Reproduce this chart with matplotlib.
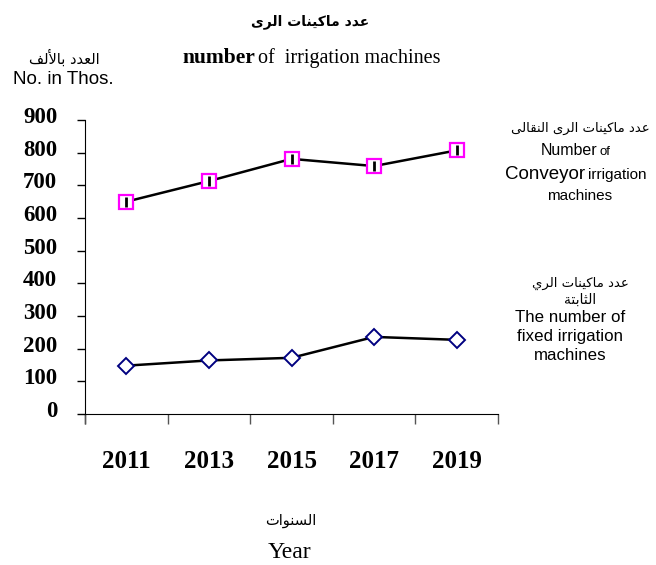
import matplotlib
matplotlib.use("Agg")
import matplotlib.pyplot as plt
import matplotlib.transforms as mtransforms

# data (thousands)
years = ["2011", "2013", "2015", "2017", "2019"]
conveyor = [650, 713, 781, 759, 807]
fixed = [148, 164, 172, 236, 227]
yticks = [0, 100, 200, 300, 400, 500, 600, 700, 800, 900]

# arabic forms: isolated, final, initial, medial (matplotlib does no shaping)
FORMS = {
    'ا': ('\uFE8D', '\uFE8E', None, None),
    'أ': ('\uFE83', '\uFE84', None, None),
    'ب': ('\uFE8F', '\uFE90', '\uFE91', '\uFE92'),
    'ة': ('\uFE93', '\uFE94', None, None),
    'ت': ('\uFE95', '\uFE96', '\uFE97', '\uFE98'),
    'ث': ('\uFE99', '\uFE9A', '\uFE9B', '\uFE9C'),
    'د': ('\uFEA9', '\uFEAA', None, None),
    'ر': ('\uFEAD', '\uFEAE', None, None),
    'س': ('\uFEB1', '\uFEB2', '\uFEB3', '\uFEB4'),
    'ع': ('\uFEC9', '\uFECA', '\uFECB', '\uFECC'),
    'ف': ('\uFED1', '\uFED2', '\uFED3', '\uFED4'),
    'ق': ('\uFED5', '\uFED6', '\uFED7', '\uFED8'),
    'ك': ('\uFED9', '\uFEDA', '\uFEDB', '\uFEDC'),
    'ل': ('\uFEDD', '\uFEDE', '\uFEDF', '\uFEE0'),
    'م': ('\uFEE1', '\uFEE2', '\uFEE3', '\uFEE4'),
    'ن': ('\uFEE5', '\uFEE6', '\uFEE7', '\uFEE8'),
    'و': ('\uFEED', '\uFEEE', None, None),
    'ى': ('\uFEEF', '\uFEF0', None, None),
    'ي': ('\uFEF1', '\uFEF2', '\uFEF3', '\uFEF4'),
}
LAM_ALEF = {'ا': ('\uFEFB', '\uFEFC'), 'أ': ('\uFEF7', '\uFEF8')}


def shape(text):
    words = []
    for word in text.split(' '):
        units = []
        i = 0
        while i < len(word):
            if word[i] == 'ل' and i + 1 < len(word) and word[i + 1] in LAM_ALEF:
                units.append(('LA', word[i + 1]))
                i += 2
            else:
                units.append(word[i])
                i += 1
        out = ''
        for k, u in enumerate(units):
            prev = units[k - 1] if k > 0 else None
            prev_joins = prev is not None and not isinstance(prev, tuple) \
                and FORMS[prev][2] is not None
            if isinstance(u, tuple):
                out += LAM_ALEF[u[1]][1 if prev_joins else 0]
                continue
            f = FORMS[u]
            nxt = k < len(units) - 1 and f[2] is not None
            if prev_joins and nxt:
                out += f[3]
            elif prev_joins:
                out += f[1]
            elif nxt:
                out += f[2]
            else:
                out += f[0]
        words.append(out)
    return ' '.join(words)[::-1]


AR = ['DejaVu Sans']

fig = plt.figure(figsize=(6.56, 5.65), dpi=100)
ax = fig.add_axes([85 / 656, 1 - 414 / 565, 413 / 656, 294 / 565])

x = list(range(1, len(years) + 1))
ax.plot(x, conveyor, color='black', lw=1.8, marker='s', ms=10,
        mfc='white', mec='#FF00FF', mew=1.6, zorder=3)
ax.plot(x, conveyor, ls='none', marker='|', ms=7, mec='black', mew=2, zorder=4)
ax.plot(x, fixed, color='black', lw=1.8, marker='D', ms=8,
        mfc='white', mec='#000080', mew=1.4, zorder=3)

ax.set_xlim(0.5, len(years) + 0.5)
ax.set_ylim(0, 900)
ax.spines['top'].set_visible(False)
ax.spines['right'].set_visible(False)

ax.set_yticks(yticks)
ax.set_yticklabels([str(v) for v in yticks], family='Liberation Serif',
                   fontweight='bold', fontsize=16.5)
ax.tick_params(axis='y', length=6, width=1, pad=14)
off = mtransforms.ScaledTranslation(0, 5 / 100, fig.dpi_scale_trans)
for lab in ax.get_yticklabels():
    lab.set_transform(lab.get_transform() + off)

ax.set_xticks([i + 0.5 for i in range(len(years) + 1)] + [0.5])
ax.set_xticks(x, minor=True)
ax.set_xticklabels([])
ax.set_xticklabels(years, minor=True, family='Liberation Serif',
                   fontweight='bold', fontsize=18)
ax.tick_params(axis='x', which='major', length=7, width=1, color='#555555')
ax.tick_params(axis='x', which='minor', length=0, pad=26)

# titles
fig.text(310 / 656, 1 - 22 / 565, shape('عدد ماكينات الرى'), family=AR,
         fontweight='bold', fontsize=10, ha='center', va='center')
fig.text(255 / 656, 1 - 58 / 565, 'number', family='Liberation Serif',
         fontweight='bold', fontsize=15.5, ha='right', va='center')
fig.text(258 / 656, 1 - 58 / 565, 'of  irrigation machines', family='Liberation Serif',
         fontsize=14.5, ha='left', va='center')
fig.text(100 / 656, 1 - 58 / 565, shape('العدد بالألف'), family=AR,
         fontsize=10.5, ha='right', va='center')
fig.text(63 / 656, 1 - 79 / 565, 'No. in Thos.', family='Liberation Sans',
         fontsize=13.5, ha='center', va='center')

# right side labels
fig.text(580 / 656, 1 - 128 / 565, shape('عدد ماكينات الرى النقالى'), family=AR,
         fontsize=9.5, ha='center', va='center')
fig.text(597 / 656, 1 - 151 / 565, 'Number', family='Liberation Sans',
         fontsize=11.5, ha='right', va='center')
fig.text(600 / 656, 1 - 152 / 565, 'of', family='Liberation Sans',
         fontsize=9.5, ha='left', va='center')
fig.text(585 / 656, 1 - 174 / 565, 'Conveyor', family='Liberation Sans',
         fontsize=13.5, ha='right', va='center')
fig.text(588 / 656, 1 - 175 / 565, 'irrigation', family='Liberation Sans',
         fontsize=11, ha='left', va='center')
fig.text(580 / 656, 1 - 196 / 565, 'machines', family='Liberation Sans',
         fontsize=11, ha='center', va='center')

fig.text(580 / 656, 1 - 283 / 565, shape('عدد ماكينات الري'), family=AR,
         fontsize=9.5, ha='center', va='center')
fig.text(580 / 656, 1 - 300 / 565, shape('الثابتة'), family=AR,
         fontsize=10, ha='center', va='center')
for txt, yy in [('The number of', 318), ('fixed irrigation', 337), ('machines', 355)]:
    fig.text(570 / 656, 1 - yy / 565, txt, family='Liberation Sans',
             fontsize=12.2, ha='center', va='center')

# x axis title
fig.text(291 / 656, 1 - 521 / 565, shape('السنوات'), family=AR,
         fontsize=10.5, ha='center', va='center')
fig.text(289 / 656, 1 - 552 / 565, 'Year', family='Liberation Serif',
         fontsize=17, ha='center', va='center')

fig.savefig('out.png', dpi=100)
